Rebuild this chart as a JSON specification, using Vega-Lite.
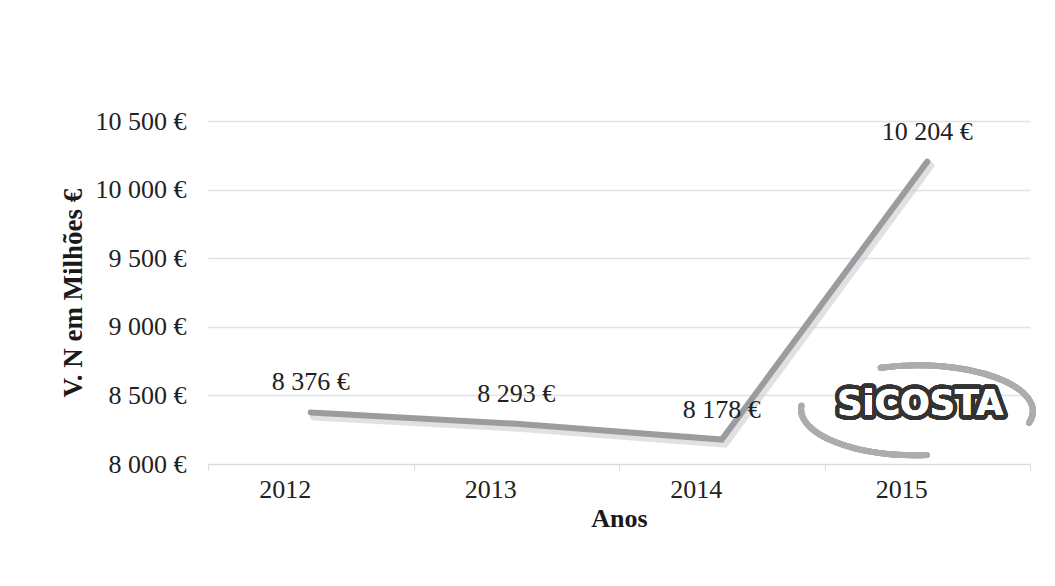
{
  "$schema": "https://vega.github.io/schema/vega-lite/v6.json",
  "width": 822,
  "height": 343,
  "autosize": "none",
  "padding": {"left": 208, "top": 121, "right": 25, "bottom": 122},
  "background": "white",
  "config": {
    "font": "Liberation Serif",
    "view": {"stroke": null},
    "locale": {
      "number": {"decimal": ",", "thousands": " ", "grouping": [3], "currency": ["", " €"]}
    }
  },
  "data": {
    "values": [
      {"ano": "2012", "valor": 8376},
      {"ano": "2013", "valor": 8293},
      {"ano": "2014", "valor": 8178},
      {"ano": "2015", "valor": 10204}
    ]
  },
  "layer": [
    {
      "mark": {
        "type": "point",
        "shape": "M-0.3,-0.36 A1,0.4 0 0,1 0.99,0.12 M-0.99,-0.03 A1,0.4 0 0,0 0.1,0.4",
        "size": 52900,
        "filled": false,
        "stroke": "#acacac",
        "strokeWidth": 6,
        "strokeCap": "round",
        "opacity": 1,
        "xOffset": -12
      },
      "encoding": {
        "x": {"datum": "2015", "type": "ordinal", "bandPosition": 0.5},
        "y": {"datum": 8400, "type": "quantitative"}
      }
    },
    {
      "mark": {
        "type": "text",
        "text": "SiCOSTA",
        "font": "DejaVu Sans",
        "fontWeight": "bold",
        "fontSize": 35,
        "fill": "#ffffff",
        "stroke": "#333333",
        "strokeWidth": 9,
        "strokeJoin": "round",
        "dx": -7,
        "baseline": "middle",
        "align": "center"
      },
      "encoding": {
        "x": {"datum": "2015", "type": "ordinal", "bandPosition": 0.5},
        "y": {"datum": 8435, "type": "quantitative"}
      }
    },
    {
      "mark": {
        "type": "text",
        "text": "SiCOSTA",
        "font": "DejaVu Sans",
        "fontWeight": "bold",
        "fontSize": 35,
        "fill": "#ffffff",
        "dx": -7,
        "baseline": "middle",
        "align": "center"
      },
      "encoding": {
        "x": {"datum": "2015", "type": "ordinal", "bandPosition": 0.5},
        "y": {"datum": 8435, "type": "quantitative"}
      }
    },
    {
      "mark": {"type": "line", "stroke": "#c4c4c4", "strokeWidth": 8, "opacity": 0.5, "xOffset": 3, "yOffset": 4, "strokeCap": "round"},
      "encoding": {
        "x": {"field": "ano", "type": "ordinal", "bandPosition": 0.5},
        "y": {"field": "valor", "type": "quantitative"}
      }
    },
    {
      "mark": {"type": "line", "stroke": "#9a9c9f", "strokeWidth": 6, "strokeCap": "round", "strokeJoin": "miter"},
      "encoding": {
        "x": {
          "field": "ano",
          "type": "ordinal",
          "bandPosition": 0.5,
          "scale": {"type": "band", "paddingInner": 0, "paddingOuter": 0},
          "axis": {
            "title": "Anos",
            "titleFont": "Liberation Serif",
            "titleFontWeight": "bold",
            "titleFontSize": 26,
            "titleColor": "#1a1a1a",
            "titlePadding": 3,
            "labelFont": "Liberation Serif",
            "labelFontSize": 26,
            "labelColor": "#222222",
            "labelAngle": 0,
            "labelPadding": 19,
            "tickBand": "extent",
            "tickSize": 6,
            "tickColor": "#d5dbe3",
            "domainColor": "#d5dbe3",
            "grid": false
          }
        },
        "y": {
          "field": "valor",
          "type": "quantitative",
          "scale": {"domain": [8000, 10500], "nice": false, "zero": false},
          "axis": {
            "title": "V. N em Milhões €",
            "titleFont": "Liberation Serif",
            "titleFontWeight": "bold",
            "titleFontSize": 27,
            "titleColor": "#1a1a1a",
            "titlePadding": 8,
            "values": [8000, 8500, 9000, 9500, 10000, 10500],
            "format": "$,.0f",
            "labelFont": "Liberation Serif",
            "labelFontSize": 26,
            "labelColor": "#222222",
            "labelPadding": 22,
            "ticks": false,
            "domain": false,
            "grid": true,
            "gridColor": "#dde3ea",
            "gridWidth": 1.5
          }
        }
      }
    },
    {
      "mark": {"type": "text", "fontSize": 26, "font": "Liberation Serif", "color": "#222222", "dy": -30, "baseline": "middle"},
      "encoding": {
        "x": {"field": "ano", "type": "ordinal", "bandPosition": 0.5},
        "y": {"field": "valor", "type": "quantitative"},
        "text": {"field": "valor", "type": "quantitative", "format": "$,.0f"}
      }
    }
  ]
}
